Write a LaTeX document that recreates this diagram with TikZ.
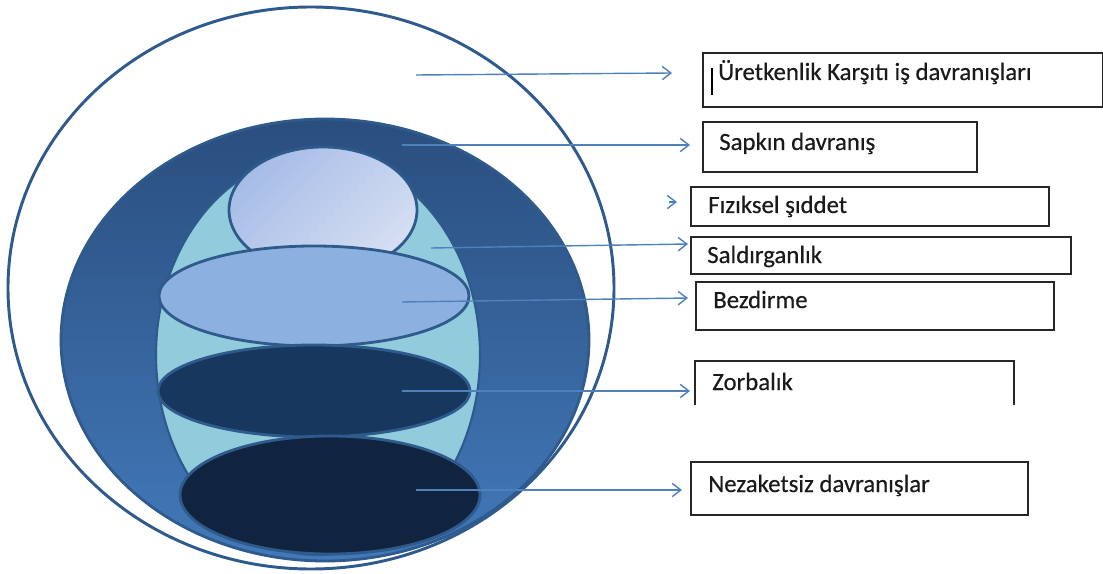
\documentclass[tikz,border=0pt]{standalone}
\usepackage{fontspec}
\setmainfont[FakeBold=0.4]{Carlito}
\usetikzlibrary{arrows.meta}
\definecolor{ringtop}{HTML}{2A4E7E}
\definecolor{ringbot}{HTML}{4279BA}
\definecolor{cyanfill}{HTML}{92CCDC}
\definecolor{lighttl}{HTML}{A6BCE7}
\definecolor{lightbr}{HTML}{D6DFF2}
\definecolor{bezfill}{HTML}{8CB1E1}
\definecolor{zorfill}{HTML}{18375E}
\definecolor{nezfill}{HTML}{11243F}
\definecolor{edgec}{HTML}{2F5A8C}
\definecolor{outerc}{HTML}{2E5A8E}
\definecolor{arrowc}{HTML}{4F81BD}
\definecolor{boxc}{HTML}{262626}
\definecolor{txtc}{HTML}{1A1A1A}
\tikzset{
  arr/.style={draw=arrowc, line width=1.05pt, -{Straight Barb[length=6.5pt,width=10pt,line width=1.05pt]}},
  box/.style={draw=boxc, line width=1.4pt, inner sep=0pt, anchor=north west},
  boxline/.style={draw=boxc, line width=1.4pt},
  lbl/.style={anchor=base west, inner sep=0pt, text=txtc, font=\fontsize{18.6}{22}\selectfont},
  shp/.style={draw=edgec, line width=2.1pt},
}
\begin{document}
\begin{tikzpicture}[x=0.75pt,y=-0.75pt]
\useasboundingbox (0,0) rectangle (1103,574);
\fill[white] (0,0) rectangle (1103,574);
% nested shapes
\draw[draw=outerc, line width=2.2pt] (311,288) ellipse [x radius=303, y radius=281];
\draw[shp, top color=ringtop, bottom color=ringbot] (325,340) ellipse [x radius=264, y radius=221];
\draw[shp, line width=1.6pt, fill=cyanfill] (318,355) ellipse [x radius=162, y radius=200];
\draw[shp, top color=lighttl, bottom color=lightbr, shading angle=45] (323,210) ellipse [x radius=94, y radius=63];
\draw[shp, fill=bezfill] (314,296) ellipse [x radius=155, y radius=50];
\draw[shp, fill=zorfill] (314,391) ellipse [x radius=156, y radius=46];
\draw[shp, fill=nezfill] (330,495) ellipse [x radius=150, y radius=59];
% boxes
\node[box, minimum width=400*0.75pt, minimum height=54*0.75pt] (b1) at (702,52) {};
\node[box, minimum width=274*0.75pt, minimum height=50*0.75pt] (b2) at (702,121) {};
\node[box, minimum width=358*0.75pt, minimum height=39*0.75pt] (b3) at (690,186) {};
\node[box, minimum width=380*0.75pt, minimum height=37*0.75pt] (b4) at (690,236) {};
\node[box, minimum width=358*0.75pt, minimum height=48*0.75pt] (b5) at (695,281) {};
\node[box, draw=none, minimum width=317*0.75pt, minimum height=42*0.75pt] (b6) at (695,361) {};
\draw[boxline] (b6.south west) -- (b6.north west) -- (b6.north east) -- (b6.south east);
\node[box, minimum width=337*0.75pt, minimum height=53*0.75pt] (b7) at (690,461) {};
% labels
\node[lbl] (t1) at (718,80) {Üretkenlik Karşıtı iş davranışları};
\draw[black, line width=2.2pt] (712,68) -- (712,95);
\node[lbl] (t2) at (719,150) {Sapkın davranış};
\node[lbl] (t3) at (708,213) {Fızıksel şıddet};
\node[lbl] (t4) at (707,263) {Saldırganlık};
\node[lbl] (t5) at (713,308) {Bezdirme};
\node[lbl] (t6) at (712,390) {Zorbalık};
\node[lbl] (t7) at (708,492) {Nezaketsiz davranışlar};
% arrow end points
\coordinate (a1s) at (416,75);  \coordinate (a1e) at (672,73);
\coordinate (a2s) at (402,145); \coordinate (a2e) at (690,145);
\coordinate (a3s) at (669,202); \coordinate (a3e) at (677,202);
\coordinate (a4s) at (431,248); \coordinate (a4e) at (688,244);
\coordinate (a5s) at (402,302); \coordinate (a5e) at (688,298);
\coordinate (a6s) at (402,391); \coordinate (a6e) at (690,391);
\coordinate (a7s) at (416,490); \coordinate (a7e) at (682,490);
\draw[arr] (a1s) -- (a1e);
\draw[arr] (a2s) -- (a2e);
\draw[arr] (a3s) -- (a3e);
\draw[arr] (a4s) -- (a4e);
\draw[arr] (a5s) -- (a5e);
\draw[arr] (a6s) -- (a6e);
\draw[arr] (a7s) -- (a7e);
\end{tikzpicture}
\end{document}
